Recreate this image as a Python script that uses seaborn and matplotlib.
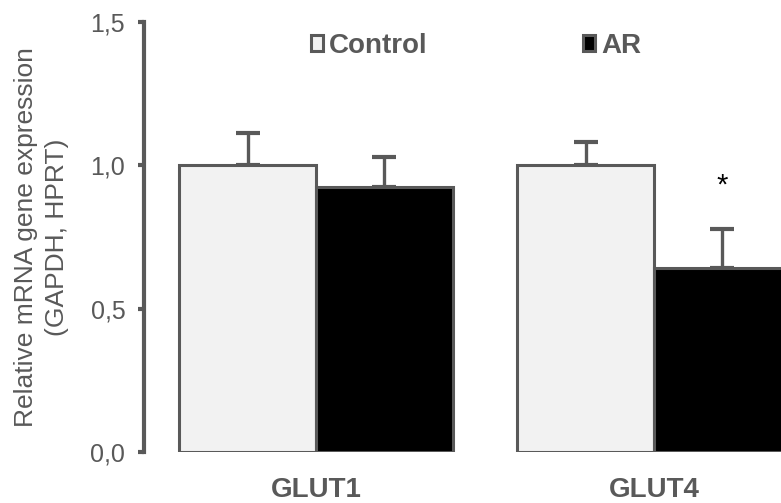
import matplotlib
matplotlib.use("Agg")
import matplotlib.pyplot as plt
from matplotlib.patches import Patch
import seaborn as sns
import pandas as pd

genes = ["GLUT1", "GLUT4"]
groups = ["Control", "AR"]
control_mean = [1.00, 1.00]
control_err = [0.113, 0.081]
ar_mean = [0.924, 0.643]
ar_err = [0.105, 0.135]
yticks = [0.0, 0.5, 1.0, 1.5]
ytick_labels = ["0,0", "0,5", "1,0", "1,5"]

GRAY = "#595959"
colors = {"Control": "#F2F2F2", "AR": "#000000"}

df = pd.DataFrame({
    "gene": genes * 2,
    "group": ["Control"] * 2 + ["AR"] * 2,
    "value": control_mean + ar_mean,
})
errs = {"Control": control_err, "AR": ar_err}

sns.set_style("white")
plt.rcParams["font.family"] = ["Liberation Sans", "DejaVu Sans"]

fig = plt.figure(figsize=(7.81, 5.03), dpi=100)
ax = fig.add_axes([144 / 781, 1 - 452 / 503, 1 - 144 / 781, 430 / 503])

sns.barplot(data=df, x="gene", y="value", hue="group", order=genes,
            hue_order=groups, palette=colors, saturation=1, width=0.81,
            edgecolor=GRAY, linewidth=2.2, errorbar=None, legend=False,
            ax=ax, zorder=3)

for cont, grp in zip(ax.containers, groups):
    xs = [b.get_x() + b.get_width() / 2 for b in cont]
    hs = [b.get_height() for b in cont]
    ax.errorbar(xs, hs, yerr=[[0] * len(hs), errs[grp]], fmt="none",
                ecolor=GRAY, elinewidth=2.4, capsize=8.5, capthick=3, zorder=2)
    if grp == "AR":
        ax.text(xs[1], 0.9, "*", ha="center", va="baseline", fontsize=21,
                color="black")

ax.set_xlim(-0.509, 1.376)
ax.set_ylim(0, 1.5)
ax.set_yticks(yticks)
ax.set_yticklabels(ytick_labels)
ax.set_xlabel("")
ax.set_ylabel("Relative mRNA gene expression\n(GAPDH, HPRT)", fontsize=19,
              color=GRAY, linespacing=1.38)
ax.yaxis.set_label_coords(-0.117, 0.5)

for s in ["top", "right", "bottom"]:
    ax.spines[s].set_visible(False)
ax.spines["left"].set_color(GRAY)
ax.spines["left"].set_linewidth(3)
ax.tick_params(axis="y", direction="out", length=4.5, width=3, color=GRAY,
               labelcolor=GRAY, labelsize=18, pad=9, left=True)
ax.tick_params(axis="x", length=0, pad=18, labelcolor=GRAY)
for lab in ax.get_xticklabels():
    lab.set_fontweight("bold")
    lab.set_fontsize(20)

handles = [Patch(facecolor=colors[g], edgecolor=GRAY, linewidth=2.2, label=g)
           for g in groups]
leg = ax.legend(handles=handles, ncol=2, frameon=False, loc="center",
                bbox_to_anchor=(0.521, 0.945), handlelength=0.45,
                handleheight=0.5, handletextpad=0.2, columnspacing=5.6,
                prop={"weight": "bold", "size": 20})
for t in leg.get_texts():
    t.set_color(GRAY)

fig.savefig("out.png", dpi=100)
